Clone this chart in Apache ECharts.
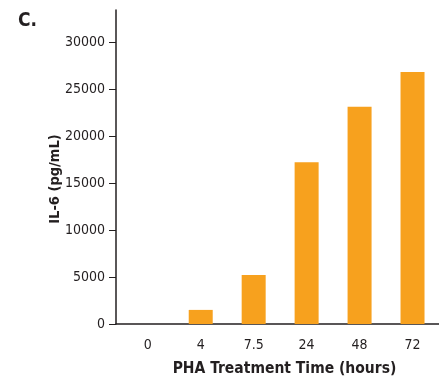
<!DOCTYPE html>
<html>
<head>
<meta charset="utf-8">
<style>
  html, body { margin: 0; padding: 0; background: #ffffff; }
  #chart { width: 439px; height: 379px; }
</style>
<script src="https://cdn.jsdelivr.net/npm/echarts@6/dist/echarts.min.js"></script>
</head>
<body>
<div id="chart"></div>
<script>
// PHA treatment time points and measured IL-6 concentration
const categories = ['0', '4', '7.5', '24', '48', '72'];
const il6Values = [0, 1500, 5200, 17200, 23100, 26800];
const yTicks = [0, 5000, 10000, 15000, 20000, 25000, 30000];

const FONT = '"DejaVu Sans Condensed", "Liberation Sans Narrow", sans-serif';
const INK = '#231f20';
const BAR = '#f7a11e';

const chart = echarts.init(document.getElementById('chart'), null, { renderer: 'canvas' });

const positions = categories.map((_, i) => i);

chart.setOption({
  animation: false,
  backgroundColor: '#ffffff',
  title: {
    text: 'C.',
    left: 13,
    top: 7,
    textStyle: { fontFamily: FONT, fontWeight: 'bold', fontSize: 19, color: INK }
  },
  grid: { left: 116, right: 0, top: 10, bottom: 55, outerBoundsMode: 'none' },
  xAxis: {
    type: 'value',
    min: -0.6,
    max: 5.5,
    splitLine: { show: false },
    axisLine: { show: true, onZero: false, lineStyle: { color: INK, width: 1.5 } },
    axisTick: { show: false },
    axisLabel: {
      customValues: positions,
      formatter: (v) => categories[Math.round(v)],
      margin: 14,
      fontFamily: FONT,
      fontSize: 14,
      color: INK
    },
    name: 'PHA Treatment Time (hours)',
    nameLocation: 'middle',
    nameGap: 37,
    nameMoveOverlap: false,
    nameTextStyle: { fontFamily: FONT, fontWeight: 'bold', fontSize: 15.5, color: INK, padding: [0, 0, 0, 14] }
  },
  yAxis: {
    type: 'value',
    min: 0,
    max: 33400,
    splitLine: { show: false },
    axisLine: { show: true, onZero: false, lineStyle: { color: INK, width: 1.5 } },
    axisTick: { show: true, customValues: yTicks, length: 7, lineStyle: { color: INK, width: 1 } },
    axisLabel: {
      customValues: yTicks,
      formatter: (v) => String(v),
      margin: 11,
      fontFamily: FONT,
      fontSize: 14,
      color: INK
    },
    name: 'IL-6 (pg/mL)',
    nameLocation: 'middle',
    nameGap: 53,
    nameMoveOverlap: false,
    nameTextStyle: { fontFamily: FONT, fontWeight: 'bold', fontSize: 14.5, color: INK, padding: [0, 24, 0, 0] }
  },
  series: [{
    type: 'bar',
    barWidth: 24,
    itemStyle: { color: BAR },
    data: positions.map((p, i) => [p, il6Values[i]])
  }]
});
</script>
</body>
</html>
